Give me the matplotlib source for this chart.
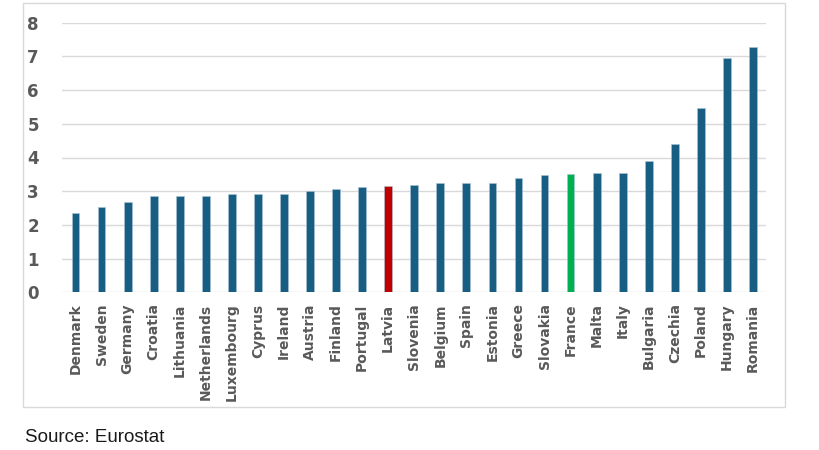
import matplotlib
matplotlib.use("Agg")
import matplotlib.pyplot as plt
from matplotlib.patches import Rectangle

countries = ["Denmark", "Sweden", "Germany", "Croatia", "Lithuania", "Netherlands",
             "Luxembourg", "Cyprus", "Ireland", "Austria", "Finland", "Portugal",
             "Latvia", "Slovenia", "Belgium", "Spain", "Estonia", "Greece",
             "Slovakia", "France", "Malta", "Italy", "Bulgaria", "Czechia",
             "Poland", "Hungary", "Romania"]
values = [2.34, 2.54, 2.67, 2.87, 2.87, 2.87, 2.93, 2.93, 2.93, 3.01, 3.07, 3.12,
          3.16, 3.18, 3.24, 3.24, 3.24, 3.38, 3.47, 3.50, 3.53, 3.53, 3.91, 4.40,
          5.47, 6.94, 7.29]
yticks = [0, 1, 2, 3, 4, 5, 6, 7, 8]

base = "#175E82"
highlight = {"Latvia": "#C00000", "France": "#00B050"}
colors = [highlight.get(c, base) for c in countries]

fig = plt.figure(figsize=(8.2, 4.5), dpi=100)
W, H = 820, 450
ax = fig.add_axes([62.5 / W, 1 - 292.3 / H, (766 - 62.5) / W, (292.3 - 22.7) / H])

x = list(range(len(countries)))
ax.bar(x, values, width=0.3, color=colors, edgecolor="#A9C4D4", linewidth=0.4, zorder=3)
ax.set_xlim(-0.5, len(countries) - 0.5)
ax.set_ylim(0, 8)
ax.set_yticks(yticks)
ax.set_yticklabels([str(t) for t in yticks], fontsize=12, fontweight="bold",
                   color="#595959", family="DejaVu Sans")
ax.set_xticks(x)
ax.set_xticklabels(countries, rotation=90, fontsize=10, fontweight="bold",
                   color="#595959", family="DejaVu Sans")
ax.tick_params(axis="both", length=0)
ax.tick_params(axis="y", pad=17)
ax.tick_params(axis="x", pad=8)
ax.grid(axis="y", color="#D9D9D9", linewidth=1, zorder=0)
for s in ax.spines.values():
    s.set_visible(False)

fig.patches.append(Rectangle((23 / W, 1 - 407 / H), (785 - 23) / W, (407 - 3) / H,
                             transform=fig.transFigure, fill=False,
                             edgecolor="#D9D9D9", linewidth=1))
fig.text(25 / W, 1 - 438 / H, "Source: Eurostat", fontsize=13.5, color="#1A1A1A",
         va="center", ha="left", family=["Liberation Sans Narrow", "Liberation Sans"])

fig.savefig("out.png", dpi=100)
